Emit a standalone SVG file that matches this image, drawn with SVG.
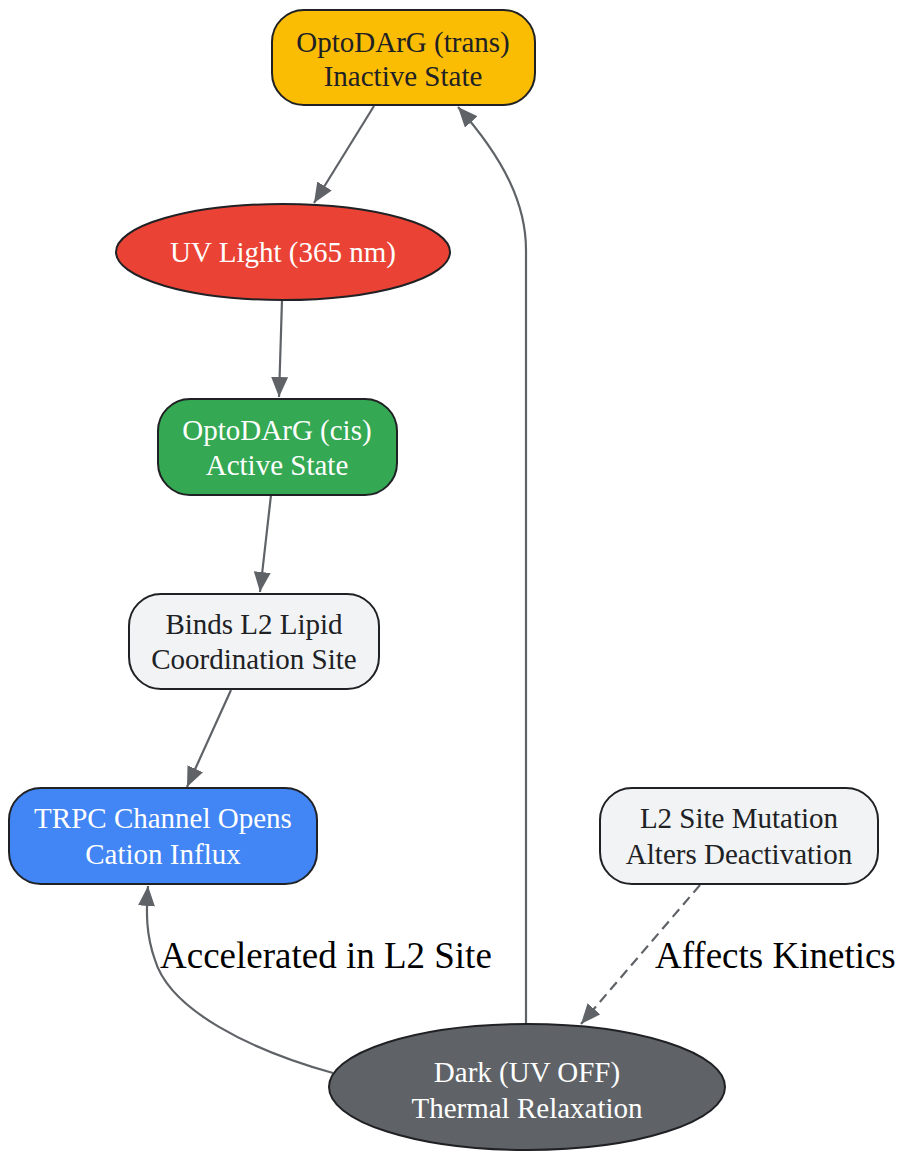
<svg xmlns="http://www.w3.org/2000/svg" width="900" height="1151" viewBox="0 0 900 1151">
<defs>
<marker id="arr" markerUnits="userSpaceOnUse" markerWidth="21" markerHeight="17" refX="20" refY="8.5" orient="auto">
<path d="M0,0 L20,8.5 L0,17 Z" fill="#5F6368"/>
</marker>
<style>
.n{stroke:#202124;stroke-width:2}
.t{font-family:"Liberation Serif","Times New Roman",serif;font-size:29px;text-anchor:middle}
.dk{fill:#202124}
.wt{fill:#ffffff}
.e{fill:none;stroke:#5F6368;stroke-width:2.2;marker-end:url(#arr)}
.lbl{font-family:"Liberation Serif","Times New Roman",serif;font-size:37px;fill:#000000}
</style>
</defs>
<rect width="900" height="1151" fill="#ffffff"/>
<g id="connectors">
<path class="e" d="M374,106 L314,203"/>
<path class="e" d="M282,300 L279,397"/>
<path class="e" d="M271,495 L260,592"/>
<path class="e" d="M231,690 L187,787"/>
<path class="e" d="M526,1024 L526,250 C526,205 505,160 458,107"/>
<path class="e" d="M333,1073 C250,1050 170,1010 155,960 C146,935 146,912 148,886"/>
<path class="e" d="M700,885 L581,1024" stroke-dasharray="10,6"/>
<text class="lbl" x="160" y="968">Accelerated in L2 Site</text>
<text class="lbl" x="655" y="968">Affects Kinetics</text>
</g>
<g id="trans">
<rect class="n" x="272" y="10" width="263" height="95" rx="32" fill="#FBBC04"/>
<text class="t dk" x="403" y="52">OptoDArG (trans)</text>
<text class="t dk" x="403" y="86">Inactive State</text>
</g>
<g id="uv">
<ellipse class="n" cx="283" cy="252" rx="167" ry="48" fill="#EA4335"/>
<text class="t wt" x="283" y="262">UV Light (365 nm)</text>
</g>
<g id="cis">
<rect class="n" x="158" y="399" width="239" height="96" rx="32" fill="#34A853"/>
<text class="t wt" x="277" y="440">OptoDArG (cis)</text>
<text class="t wt" x="277" y="475">Active State</text>
</g>
<g id="binds">
<rect class="n" x="129" y="594" width="250" height="95" rx="32" fill="#F1F3F4"/>
<text class="t dk" x="254" y="634">Binds L2 Lipid</text>
<text class="t dk" x="254" y="669">Coordination Site</text>
</g>
<g id="trpc">
<rect class="n" x="9" y="788" width="308" height="96" rx="32" fill="#4285F4"/>
<text class="t wt" x="163" y="828">TRPC Channel Opens</text>
<text class="t wt" x="163" y="864">Cation Influx</text>
</g>
<g id="mutation">
<rect class="n" x="600" y="788" width="278" height="96" rx="32" fill="#F1F3F4"/>
<text class="t dk" x="739" y="828">L2 Site Mutation</text>
<text class="t dk" x="739" y="864">Alters Deactivation</text>
</g>
<g id="dark">
<ellipse class="n" cx="527" cy="1087" rx="198" ry="63" fill="#5F6368"/>
<text class="t wt" x="527" y="1082">Dark (UV OFF)</text>
<text class="t wt" x="527" y="1118">Thermal Relaxation</text>
</g>
</svg>
